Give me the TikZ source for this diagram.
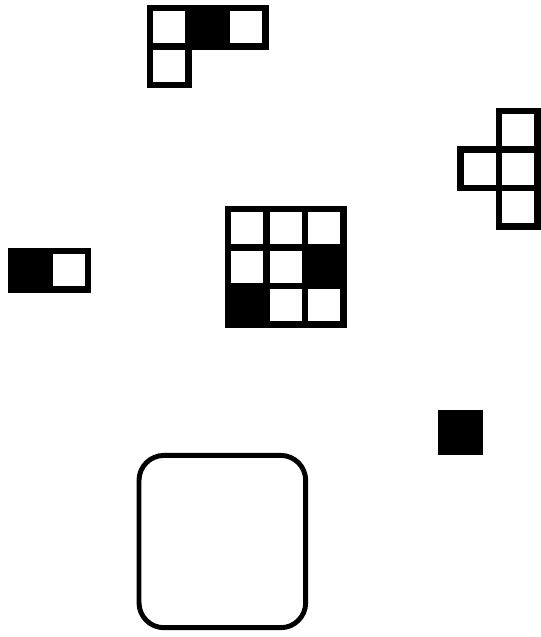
\documentclass[tikz,border=0pt]{standalone}

\begin{document}
\begin{tikzpicture}[x=0.02cm,y=-0.02cm,line join=miter]
\tikzset{
  box/.style={line width=3.5pt,draw=black,fill=white},
  on/.style={line width=3.5pt,draw=black,fill=black},
  frame/.style={line width=2.8pt,rounded corners=0.5cm}}
% one grid cell, top-left corner at x, y, style #3
\newcommand{\cell}[3]{\draw[#3] (#1,#2) rectangle ++(38.5,38.5);}
\useasboundingbox (0,0) rectangle (541,637);
% ---------- L piece (top) ----------
\cell{150}{8}{box} \cell{188.5}{8}{on} \cell{227}{8}{box}
\cell{150}{46.5}{box}
% ---------- cross piece (right) ----------
\cell{499}{111}{box}
\cell{460.5}{149.5}{box} \cell{499}{149.5}{box}
\cell{499}{188}{box}
% ---------- pair (left) ----------
\cell{11}{251}{on} \cell{49.5}{251}{box}
% ---------- 3x3 block (centre) ----------
\cell{228}{209}{box} \cell{266.5}{209}{box} \cell{305}{209}{box}
\cell{228}{247.5}{box} \cell{266.5}{247.5}{box} \cell{305}{247.5}{on}
\cell{228}{286}{on}  \cell{266.5}{286}{box} \cell{305}{286}{box}
% ---------- single black square ----------
\fill[black] (438,410) rectangle (483,455);
% ---------- rounded frame ----------
\draw[frame] (139,455.4) rectangle (305.7,627.7);
\end{tikzpicture}
\end{document}
